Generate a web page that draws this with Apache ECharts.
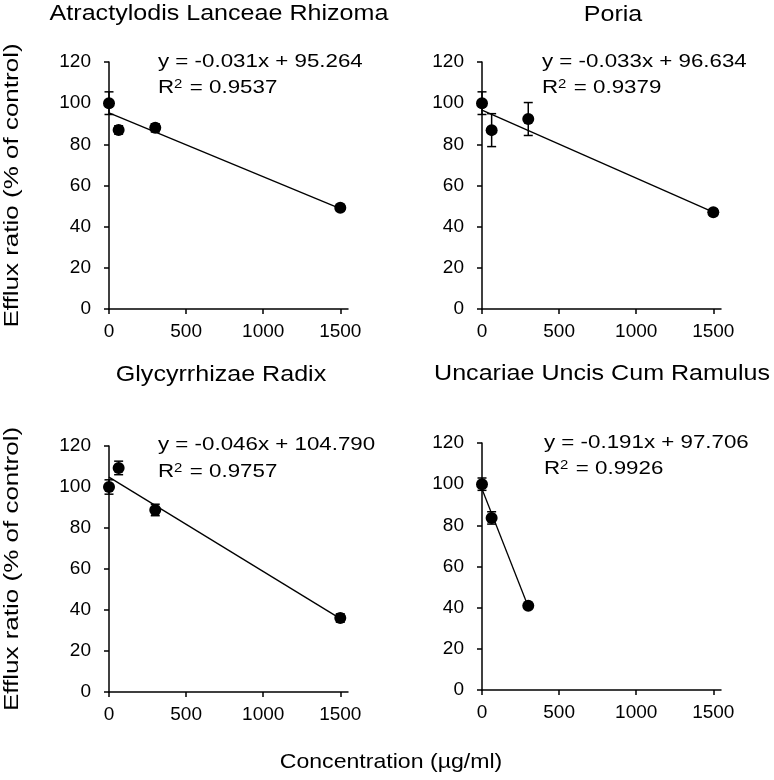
<!DOCTYPE html>
<html>
<head>
<meta charset="utf-8">
<script src="https://cdn.jsdelivr.net/npm/echarts@6/dist/echarts.min.js"></script>
<style>html,body{margin:0;padding:0;background:#fff;}#c{width:774px;height:780px;}</style>
</head>
<body>
<div id="c"></div>
<script>
// ---- data ----
const panelTitles = ['Atractylodis Lanceae Rhizoma', 'Poria', 'Glycyrrhizae Radix', 'Uncariae Uncis Cum Ramulus'];
const concA = [0, 62.5, 300, 1500];
const meanA = [100, 87, 88, 49.2];
const errA = [5.5, 2, 2, 1.5];
const concB = [0, 62.5, 300, 1500];
const meanB = [100, 86.9, 92.3, 47.0];
const errB = [5.5, 8, 8, 1.5];
const concC = [0, 62.5, 300, 1500];
const meanC = [100, 109.3, 88.8, 36.1];
const errC = [3.5, 3.3, 2.8, 2];
const concD = [0, 62.5, 300];
const meanD = [100, 83.6, 40.9];
const errD = [3, 3, 1];
const trendA = [[0, 95.3], [1500, 48.8]];
const trendB = [[0, 96.6], [1500, 47.1]];
const trendC = [[0, 104.8], [1500, 35.8]];
const trendD = [[0, 97.7], [300, 40.4]];
const equations = ['y = -0.031x + 95.264', 'y = -0.033x + 96.634', 'y = -0.046x + 104.790', 'y = -0.191x + 97.706'];
const r2Values = ['0.9537', '0.9379', '0.9757', '0.9926'];
const xTicks = [0, 500, 1000, 1500];
const yAxisTitle = 'Efflux ratio (% of control)';
const xAxisTitle = 'Concentration (µg/ml)';

const FONT = "'Liberation Sans', Arial, sans-serif";
const panels = [
  {conc: concA, mean: meanA, err: errA, trend: trendA},
  {conc: concB, mean: meanB, err: errB, trend: trendB},
  {conc: concC, mean: meanC, err: errC, trend: trendC},
  {conc: concD, mean: meanD, err: errD, trend: trendD}
];
const grids = [
  {left: 109, top: 62, width: 239, height: 247},
  {left: 482, top: 62, width: 239, height: 247},
  {left: 109, top: 446, width: 239, height: 246},
  {left: 482, top: 443, width: 239, height: 247}
];
const titlePos = [[219, 14], [613, 15], [221, 375], [602, 374]];
const eqPos = [[158, 62, 88], [542, 62, 88], [158, 445, 472], [544, 443, 469]];

const xAxes = [], yAxes = [], series = [], graphics = [];
panels.forEach((p, i) => {
  xAxes.push({
    type: 'value', gridIndex: i, min: 0, max: 1550,
    axisLine: {show: true, lineStyle: {color: '#000', width: 1.5}},
    axisTick: {show: true, length: 5, lineStyle: {color: '#000', width: 1.5}, customValues: xTicks},
    axisLabel: {color: '#000', fontSize: 19, fontFamily: FONT, margin: 13, customValues: xTicks,
      formatter: v => String(v)},
    splitLine: {show: false}
  });
  yAxes.push({
    type: 'value', gridIndex: i, min: 0, max: 120, interval: 20,
    axisLine: {show: true, lineStyle: {color: '#000', width: 1.5}},
    axisTick: {show: true, length: 5, lineStyle: {color: '#000', width: 1.5}},
    axisLabel: {color: '#000', fontSize: 19, fontFamily: FONT, margin: 18, formatter: v => String(v)},
    splitLine: {show: false}
  });
  const errData = p.conc.map((x, k) => [x, p.mean[k] - p.err[k], p.mean[k] + p.err[k]]);
  series.push({
    type: 'custom', xAxisIndex: i, yAxisIndex: i, z: 1,
    data: errData,
    renderItem: function (params, api) {
      const x = api.value(0);
      const lo = api.coord([x, api.value(1)]);
      const hi = api.coord([x, api.value(2)]);
      const hw = 4.5;
      const st = {stroke: '#000', lineWidth: 1.5};
      return {type: 'group', children: [
        {type: 'line', shape: {x1: lo[0], y1: lo[1], x2: hi[0], y2: hi[1]}, style: st},
        {type: 'line', shape: {x1: lo[0] - hw, y1: lo[1], x2: lo[0] + hw, y2: lo[1]}, style: st},
        {type: 'line', shape: {x1: hi[0] - hw, y1: hi[1], x2: hi[0] + hw, y2: hi[1]}, style: st}
      ]};
    }
  });
  series.push({
    type: 'line', xAxisIndex: i, yAxisIndex: i, z: 2,
    data: p.trend, showSymbol: false, symbol: 'none',
    lineStyle: {color: '#000', width: 1.3}, silent: true
  });
  series.push({
    type: 'scatter', xAxisIndex: i, yAxisIndex: i, z: 3,
    data: p.conc.map((x, k) => [x, p.mean[k]]),
    symbol: 'circle', symbolSize: 12,
    itemStyle: {color: '#000', opacity: 1}
  });
  graphics.push({
    type: 'text', x: titlePos[i][0], y: titlePos[i][1], scaleX: 1.14,
    style: {text: panelTitles[i], fill: '#000', font: '22px ' + FONT, textAlign: 'center', textVerticalAlign: 'middle'}
  });
  graphics.push({
    type: 'text', x: eqPos[i][0], y: eqPos[i][1], scaleX: 1.24,
    style: {text: equations[i], fill: '#000', font: '18px ' + FONT, textAlign: 'left', textVerticalAlign: 'middle'}
  });
  graphics.push({
    type: 'text', x: eqPos[i][0], y: eqPos[i][2], scaleX: 1.24,
    style: {
      text: '{a|R}{s|2}{a| = ' + r2Values[i] + '}',
      rich: {
        a: {fontSize: 18, fontFamily: FONT, fill: '#000', color: '#000'},
        s: {fontSize: 12, fontFamily: FONT, fill: '#000', color: '#000', verticalAlign: 'top', padding: [0, 1, 6, 0]}
      },
      textAlign: 'left', textVerticalAlign: 'middle'
    }
  });
});
// y-axis titles for left column
[[12, 185.5], [12, 569]].forEach(pos => {
  graphics.push({
    type: 'text', x: pos[0], y: pos[1], rotation: Math.PI / 2, scaleX: 1.3,
    style: {text: yAxisTitle, fill: '#000', font: '20px ' + FONT, textAlign: 'center', textVerticalAlign: 'middle'}
  });
});
graphics.push({
  type: 'text', x: 391, y: 762, scaleX: 1.1,
  style: {text: xAxisTitle, fill: '#000', font: '21px ' + FONT, textAlign: 'center', textVerticalAlign: 'middle'}
});

const chart = echarts.init(document.getElementById('c'), null, {renderer: 'canvas'});
chart.setOption({
  animation: false,
  backgroundColor: '#fff',
  grid: grids,
  xAxis: xAxes,
  yAxis: yAxes,
  series: series,
  graphic: graphics
});
</script>
</body>
</html>
